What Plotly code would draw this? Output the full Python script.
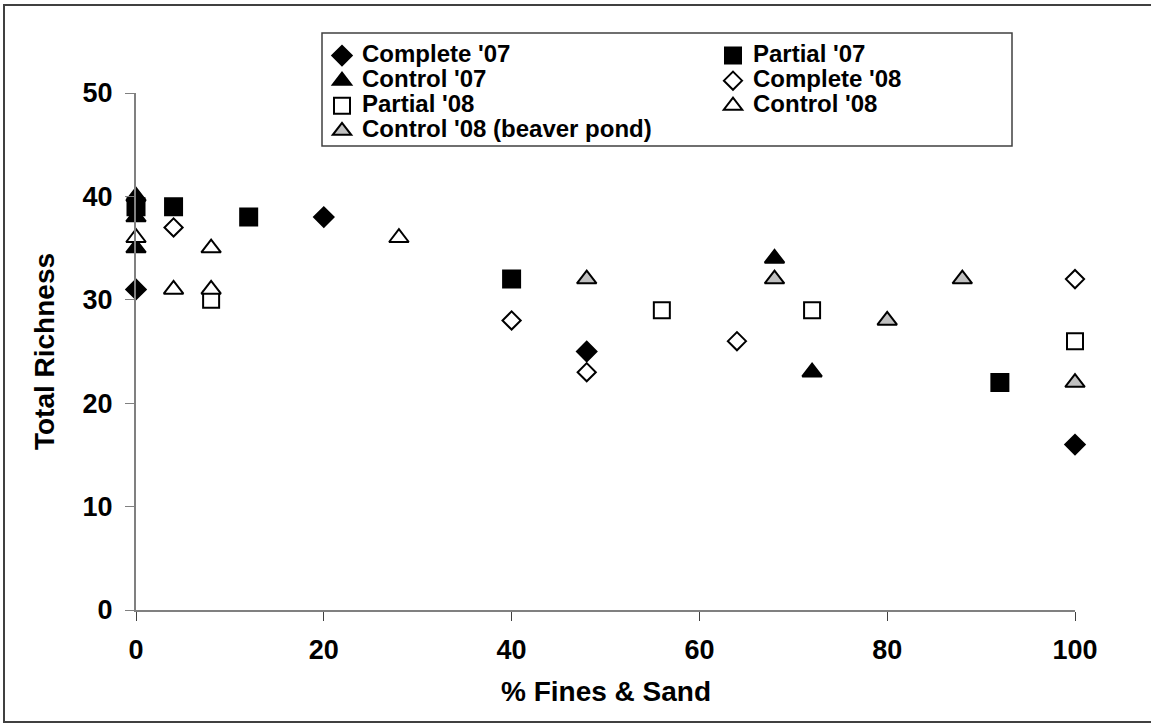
import plotly.graph_objects as go

# ---- data ----
complete07_x = [0, 20, 48, 100]
complete07_y = [31, 38, 25, 16]
partial07_x = [0, 4, 12, 40, 92]
partial07_y = [39, 39, 38, 32, 22]
control07_x = [0, 0, 0, 68, 72]
control07_y = [40, 38, 35, 34, 23]
complete08_x = [4, 40, 48, 64, 100]
complete08_y = [37, 28, 23, 26, 32]
partial08_x = [8, 56, 72, 100]
partial08_y = [30, 29, 29, 26]
control08_x = [0, 4, 8, 8, 28]
control08_y = [36, 31, 31, 35, 36]
beaver_x = [48, 68, 80, 88, 100]
beaver_y = [32, 32, 28, 32, 22]

x_ticks = [0, 20, 40, 60, 80, 100]
y_ticks = [0, 10, 20, 30, 40, 50]

FONT = "Liberation Sans, Arial, sans-serif"
LEG_TXT = 24

series = [
    ("Complete '07", complete07_x, complete07_y, "diamond", "black", 15),
    ("Partial '07", partial07_x, partial07_y, "square", "black", 17),
    ("Control '07", control07_x, control07_y, "triangle-up", "black", 17),
    ("Complete '08", complete08_x, complete08_y, "diamond", "white", 14),
    ("Partial '08", partial08_x, partial08_y, "square", "white", 16),
    ("Control '08", control08_x, control08_y, "triangle-up", "white", 17),
    ("Control '08 (beaver pond)", beaver_x, beaver_y, "triangle-up", "#C0C0C0", 17),
]

fig = go.Figure()
for name, xs, ys, sym, fill, size in series:
    fig.add_trace(go.Scatter(
        x=xs, y=ys, mode="markers",
        name="<span style='font-size:%dpx'>%s</span>" % (LEG_TXT, name),
        cliponaxis=False,
        marker=dict(symbol=sym, color=fill, size=size,
                    line=dict(color="black", width=2)),
    ))

W, H = 1151, 724
L, R, T, B = 136, 76, 93, 114
pw, ph = W - L - R, H - T - B

def px2x(p):
    return (p - L) / pw

def py2y(p):
    return (H - B - p) / ph

fig.update_layout(
    width=W, height=H,
    margin=dict(l=L, r=R, t=T, b=B, autoexpand=False),
    paper_bgcolor="white", plot_bgcolor="white",
    font=dict(family=FONT, color="black"),
    showlegend=True,
    legend=dict(
        orientation="h", x=px2x(322), y=py2y(38), xanchor="left", yanchor="top",
        entrywidth=346, entrywidthmode="pixels",
        font=dict(family=FONT, size=17, color="black", weight="bold"),
        borderwidth=0, bgcolor="rgba(0,0,0,0)",
        tracegroupgap=0,
    ),
    xaxis=dict(
        range=[0, 100], tickvals=x_ticks, ticktext=[str(v) for v in x_ticks],
        showgrid=False, zeroline=False, showline=True, linecolor="#808080", linewidth=2,
        ticks="outside", ticklen=9, tickwidth=1, tickcolor="#404040",
        tickfont=dict(family=FONT, size=27, color="black", weight="bold"),
        ticklabelstandoff=6,
    ),
    yaxis=dict(
        range=[0, 50], tickvals=y_ticks, ticktext=[str(v) for v in y_ticks],
        showgrid=False, zeroline=False, showline=True, linecolor="#808080", linewidth=2,
        ticks="outside", ticklen=9, tickwidth=1, tickcolor="#808080",
        tickfont=dict(family=FONT, size=27, color="black", weight="bold"),
        ticklabelstandoff=7,
        title=dict(text="Total Richness", standoff=20,
                   font=dict(family=FONT, size=28, color="black", weight="bold")),
    ),
    annotations=[dict(
        text="% Fines & Sand", xref="paper", yref="paper",
        x=0.5, y=py2y(691), xanchor="center", yanchor="middle", showarrow=False,
        font=dict(family=FONT, size=28, color="black", weight="bold"),
    )],
    shapes=[
        dict(type="rect", xref="paper", yref="paper",
             x0=px2x(4), x1=px2x(1153), y0=py2y(722), y1=py2y(5),
             line=dict(color="#404040", width=2), fillcolor="rgba(0,0,0,0)",
             layer="below"),
        dict(type="rect", xref="paper", yref="paper",
             x0=px2x(322), x1=px2x(1012), y0=py2y(146), y1=py2y(33),
             line=dict(color="#404040", width=1.5), fillcolor="white",
             layer="below"),
    ],
)

fig.write_html("out.html", config={"displayModeBar": False},
               post_script="document.body.style.margin='0px';document.body.style.overflow='hidden';")
